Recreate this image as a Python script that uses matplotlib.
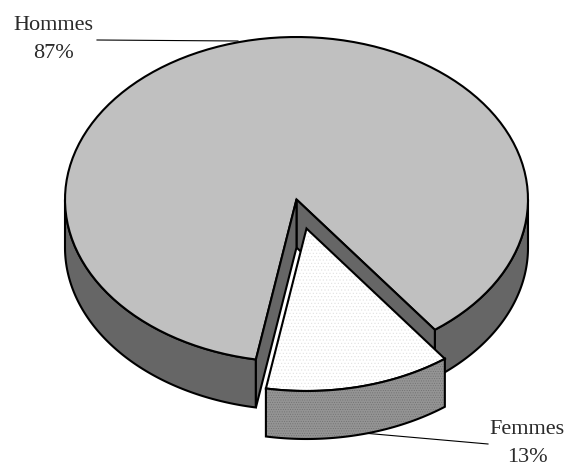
import numpy as np
import matplotlib
matplotlib.use('Agg')
import matplotlib.pyplot as plt
from matplotlib.patches import Polygon

labels = ['Hommes', 'Femmes']
shares = [87, 13]

# projected pie geometry, in pixels
cx, cy = 296.5, 199.5
rx, ry = 231.5, 162.5
depth = 48
off_x, off_y = 10, 29
start = 53.3

plt.rcParams['hatch.linewidth'] = 0.4
plt.rcParams['font.family'] = ['Liberation Serif', 'DejaVu Serif']

fig = plt.figure(figsize=(5.7, 4.66), dpi=100)
ax = fig.add_axes([0, 0, 1, 1])
ax.set_xlim(0, 570)
ax.set_ylim(466, 0)
ax.axis('off')


def rim(t0, t1, dx=0, dy=0):
    t = np.radians(np.linspace(t0, t1, 120))
    return np.column_stack([cx + dx + rx * np.cos(t), cy + dy + ry * np.sin(t)])


def wall(t0, t1, color, dx=0, dy=0, z=2, hatch=None, hatch_color='k'):
    top = rim(t0, t1, dx, dy)
    low = rim(t1, t0, dx, dy + depth)
    pts = np.vstack([top, low])
    ax.add_patch(Polygon(pts, closed=True, fc=color, ec=hatch_color, lw=0, zorder=z, hatch=hatch))
    ax.add_patch(Polygon(pts, closed=True, fc='none', ec='k', lw=1.5, zorder=z))


sweep = 360 * shares[1] / sum(shares)
end = start + sweep

# back pie: outer wall, then inner walls, then top
wall(0, start, '#666666')
wall(end, 180, '#666666')
main_top = np.vstack([[[cx, cy]], rim(end, start + 360)])
ax.add_patch(Polygon(main_top, closed=True, fc='#c0c0c0', ec='k', lw=1.5, zorder=3))

for a in (start, end):
    p = rim(a, a)[0]
    wall_pts = [[cx, cy], p, [p[0], p[1] + depth], [cx, cy + depth]]
    ax.add_patch(Polygon(wall_pts, closed=True, fc='#666666', ec='k', lw=1.5, zorder=4))

# pulled out slice
top = np.vstack([[[cx + off_x, cy + off_y]], rim(start, end, off_x, off_y)])
ax.add_patch(Polygon(top, closed=True, fc='white', ec='#e0e0e0', lw=0, zorder=5, hatch='.....'))
ax.add_patch(Polygon(top, closed=True, fc='none', ec='k', lw=1.5, zorder=6))
wall(start, end, '#949494', off_x, off_y, z=6, hatch='.......', hatch_color='#707070')

# leader lines
ax.plot([97, 238], [40, 41], color='k', lw=0.8, zorder=1)
ax.plot([363, 488], [433, 444], color='k', lw=0.8, zorder=1)

ax.text(53, 25, labels[0], ha='center', va='center', fontsize=16, color='#2a2a2a')
ax.text(53, 53, '%d%%' % shares[0], ha='center', va='center', fontsize=16, color='#2a2a2a')
ax.text(527, 429, labels[1], ha='center', va='center', fontsize=16, color='#2a2a2a')
ax.text(527, 457, '%d%%' % shares[1], ha='center', va='center', fontsize=16, color='#2a2a2a')

fig.savefig('out.png', dpi=100)
